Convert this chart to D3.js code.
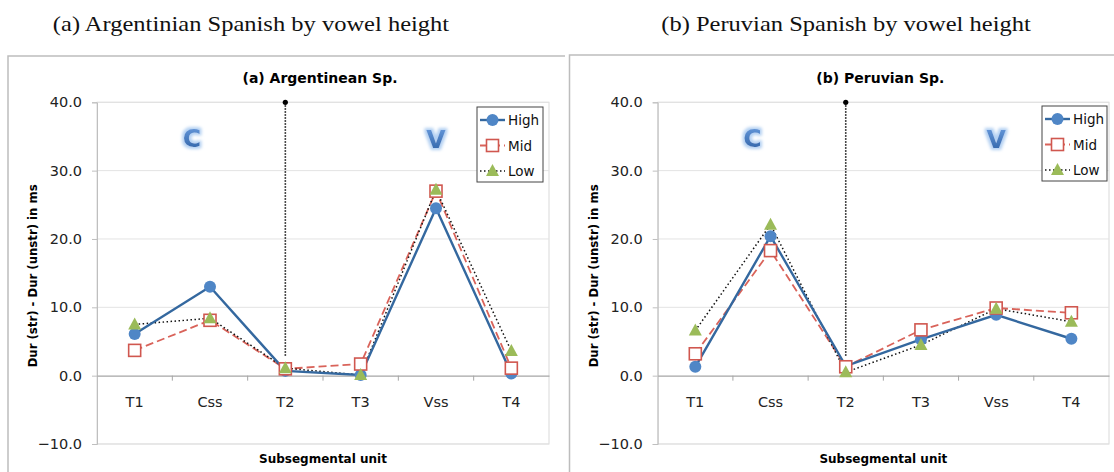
<!DOCTYPE html>
<html>
<head>
<meta charset="utf-8">
<script src="https://cdn.jsdelivr.net/npm/d3@7"></script>
<style>
  body { margin: 0; background: #fff; }
  svg { display: block; }
</style>
</head>
<body>
<svg id="fig" width="1114" height="472"></svg>
<script>
// --- data ---
const categories = ['T1', 'Css', 'T2', 'T3', 'Vss', 'T4'];
const yTicks = [-10, 0, 10, 20, 30, 40];
const seriesNames = ['High', 'Mid', 'Low'];

const argHigh = [6.1, 13.0, 0.7, 0.1, 24.5, 0.3];
const argMid  = [3.7, 8.1, 1.0, 1.7, 27.0, 1.1];
const argLow  = [7.5, 8.4, 1.1, 0.1, 27.2, 3.6];

const perHigh = [1.3, 20.4, 1.4, 5.3, 8.9, 5.4];
const perMid  = [3.2, 18.3, 1.3, 6.7, 9.9, 9.2];
const perLow  = [6.6, 22.1, 0.5, 4.5, 9.8, 7.9];

// dotted divider at T2 (top value, bottom value)
const dividerCat = 'T2';
const dividerRange = [40, 2.8];

const svg = d3.select('#fig');
const sans = '"DejaVu Sans", Verdana, sans-serif';

// glow filter + gradient for the big C / V letters
const defs = svg.append('defs');
const glow = defs.append('filter').attr('id', 'glow')
    .attr('x', '-50%').attr('y', '-50%').attr('width', '200%').attr('height', '200%');
glow.append('feMorphology').attr('in', 'SourceAlpha').attr('operator', 'dilate').attr('radius', 1.8).attr('result', 'thick');
glow.append('feGaussianBlur').attr('in', 'thick').attr('stdDeviation', 1.4).attr('result', 'blur');
glow.append('feFlood').attr('flood-color', '#b3d0f2').attr('result', 'col');
glow.append('feComposite').attr('in', 'col').attr('in2', 'blur').attr('operator', 'in').attr('result', 'halo');
const merge = glow.append('feMerge');
merge.append('feMergeNode').attr('in', 'halo');
merge.append('feMergeNode').attr('in', 'SourceGraphic');

const grad = defs.append('linearGradient').attr('id', 'letterGrad')
    .attr('x1', 0).attr('y1', 0).attr('x2', 0).attr('y2', 1);
grad.append('stop').attr('offset', '0%').attr('stop-color', '#6a9de0');
grad.append('stop').attr('offset', '100%').attr('stop-color', '#2c5fa3');

const styles = {
    High: { stroke: '#34689f', width: 2.4, dash: null },
    Mid:  { stroke: '#d9635a', width: 1.8, dash: '8,4' },
    Low:  { stroke: '#111', width: 1.5, dash: '1.5,2.5' }
};

function drawMarker(g, name, x, y) {
    if (name === 'High') {
        g.append('circle').attr('cx', x).attr('cy', y).attr('r', 6)
            .attr('fill', '#4f86c6');
    } else if (name === 'Mid') {
        g.append('rect').attr('x', x - 6).attr('y', y - 6).attr('width', 12).attr('height', 12)
            .attr('fill', '#fff').attr('stroke', '#d0574f').attr('stroke-width', 1.6);
    } else {
        g.append('path').attr('d', `M${x},${y - 7}L${x + 6.5},${y + 5}L${x - 6.5},${y + 5}Z`)
            .attr('fill', '#9bbb59');
    }
}

function drawChart(cfg) {
    const g = svg.append('g');

    // outer frame
    g.append('path')
        .attr('d', `M${cfg.frameX0},480V${cfg.frameTop}H${cfg.frameX1}`)
        .attr('fill', 'none').attr('stroke', '#bdbdbd').attr('stroke-width', 1.5);

    // figure caption above
    g.append('text').attr('transform', `translate(${cfg.capX},31) scale(1.14,1)`)
        .attr('text-anchor', 'middle')
        .style('font-family', '"Liberation Serif", "DejaVu Serif", serif')
        .style('font-size', '21.5px').attr('fill', '#111')
        .text(cfg.caption);

    const x = d3.scaleBand().domain(categories).range([cfg.left, cfg.right]);
    const y = d3.scaleLinear().domain([-10, 40]).range([444, 102.3]);
    const cx = c => x(c) + x.bandwidth() / 2;

    // plot area border
    g.append('rect').attr('x', cfg.left).attr('y', y(40))
        .attr('width', cfg.right - cfg.left).attr('height', y(-10) - y(40))
        .attr('fill', 'none').attr('stroke', '#d9d9d9');

    // gridlines
    g.selectAll('.grid').data(yTicks.filter(t => t !== 0)).enter().append('line')
        .attr('x1', cfg.left).attr('x2', cfg.right)
        .attr('y1', d => y(d)).attr('y2', d => y(d))
        .attr('stroke', '#e3e3e3');

    // y axis
    const yAxis = g.append('g').attr('transform', `translate(${cfg.left},0)`)
        .call(d3.axisLeft(y).tickValues(yTicks).tickFormat(d3.format('.1f')).tickSize(5).tickPadding(10));
    yAxis.select('.domain').attr('stroke', '#bfbfbf');
    yAxis.selectAll('.tick line').attr('stroke', '#bfbfbf');
    yAxis.selectAll('.tick text').style('font-family', sans).style('font-size', '14.5px').attr('fill', '#222');

    // x axis along zero
    const xAxis = g.append('g').attr('transform', `translate(0,${y(0)})`)
        .call(d3.axisBottom(x).tickSize(0).tickPadding(21));
    xAxis.select('.domain').attr('stroke', '#a6a6a6').attr('stroke-width', 1.2);
    xAxis.selectAll('.tick text').style('font-family', sans).style('font-size', '14.5px').attr('fill', '#222');
    // boundary tick marks between categories
    g.selectAll('.bt').data(categories.slice(1)).enter().append('line')
        .attr('x1', d => x(d)).attr('x2', d => x(d))
        .attr('y1', y(0)).attr('y2', y(0) + 5)
        .attr('stroke', '#a6a6a6');

    // chart title & axis titles
    const midX = (cfg.left + cfg.right) / 2;
    g.append('text').attr('x', midX - 3).attr('y', 83).attr('text-anchor', 'middle')
        .style('font-family', sans).style('font-weight', 'bold').style('font-size', '14px')
        .text(cfg.title);
    g.append('text').attr('x', midX).attr('y', 463).attr('text-anchor', 'middle')
        .style('font-family', sans).style('font-weight', 'bold').style('font-size', '12px')
        .text('Subsegmental unit');
    g.append('text')
        .attr('transform', `translate(${cfg.left - 60},${y(14.6)}) rotate(-90)`)
        .attr('text-anchor', 'middle')
        .style('font-family', sans).style('font-weight', 'bold').style('font-size', '11.7px')
        .text('Dur (str) - Dur (unstr) in ms');

    // dotted divider with dot on top
    g.append('line')
        .attr('x1', cx(dividerCat)).attr('x2', cx(dividerCat))
        .attr('y1', y(dividerRange[0])).attr('y2', y(dividerRange[1]))
        .attr('stroke', '#111').attr('stroke-width', 1.6).attr('stroke-dasharray', '1.5,1.5');
    g.append('circle').attr('cx', cx(dividerCat)).attr('cy', y(dividerRange[0])).attr('r', 2.6).attr('fill', '#000');

    // C and V letters
    g.append('text').attr('x', cx('Css') - 18).attr('y', y(33.5))
        .attr('text-anchor', 'middle').attr('filter', 'url(#glow)')
        .style('font-family', sans).style('font-weight', 'bold').style('font-size', '25px')
        .attr('fill', 'url(#letterGrad)').text('C');
    g.append('text').attr('x', cx('Vss')).attr('y', y(33.3))
        .attr('text-anchor', 'middle').attr('filter', 'url(#glow)')
        .style('font-family', sans).style('font-weight', 'bold').style('font-size', '25px')
        .attr('fill', 'url(#letterGrad)').text('V');

    // series lines (blue drawn last so it sits on top)
    const line = d3.line().x((d, i) => cx(categories[i])).y(d => y(d));
    ['Mid', 'Low', 'High'].forEach(name => {
        const st = styles[name];
        g.append('path').datum(cfg.series[name])
            .attr('d', line).attr('fill', 'none')
            .attr('stroke', st.stroke).attr('stroke-width', st.width)
            .attr('stroke-dasharray', st.dash);
    });
    ['High', 'Mid', 'Low'].forEach(name => {
        cfg.series[name].forEach((v, i) => drawMarker(g, name, cx(categories[i]), y(v)));
    });

    // legend
    const lg = g.append('g').attr('transform', `translate(${cfg.legX},${cfg.legY})`);
    lg.append('rect').attr('width', cfg.legW).attr('height', 75)
        .attr('fill', '#fff').attr('stroke', '#444');
    seriesNames.forEach((name, i) => {
        const ry = 13 + i * 25.5;
        const st = styles[name];
        lg.append('line').attr('x1', 3).attr('x2', 28).attr('y1', ry).attr('y2', ry)
            .attr('stroke', st.stroke).attr('stroke-width', st.width).attr('stroke-dasharray', st.dash);
        drawMarker(lg, name, 15.5, ry);
        lg.append('text').attr('x', 31).attr('y', ry + 5)
            .style('font-family', sans).style('font-size', '13.5px').attr('fill', '#111')
            .text(name);
    });
}

drawChart({
    caption: '(a) Argentinian Spanish by vowel height', capX: 251,
    title: '(a) Argentinean Sp.',
    frameX0: 8, frameX1: 565, frameTop: 56,
    left: 97, right: 549,
    legX: 477, legY: 107, legW: 66,
    series: { High: argHigh, Mid: argMid, Low: argLow }
});
drawChart({
    caption: '(b) Peruvian Spanish by vowel height', capX: 846,
    title: '(b) Peruvian Sp.',
    frameX0: 569.5, frameX1: 1120, frameTop: 55,
    left: 657.7, right: 1109,
    legX: 1042, legY: 106, legW: 65,
    series: { High: perHigh, Mid: perMid, Low: perLow }
});
</script>
</body>
</html>
